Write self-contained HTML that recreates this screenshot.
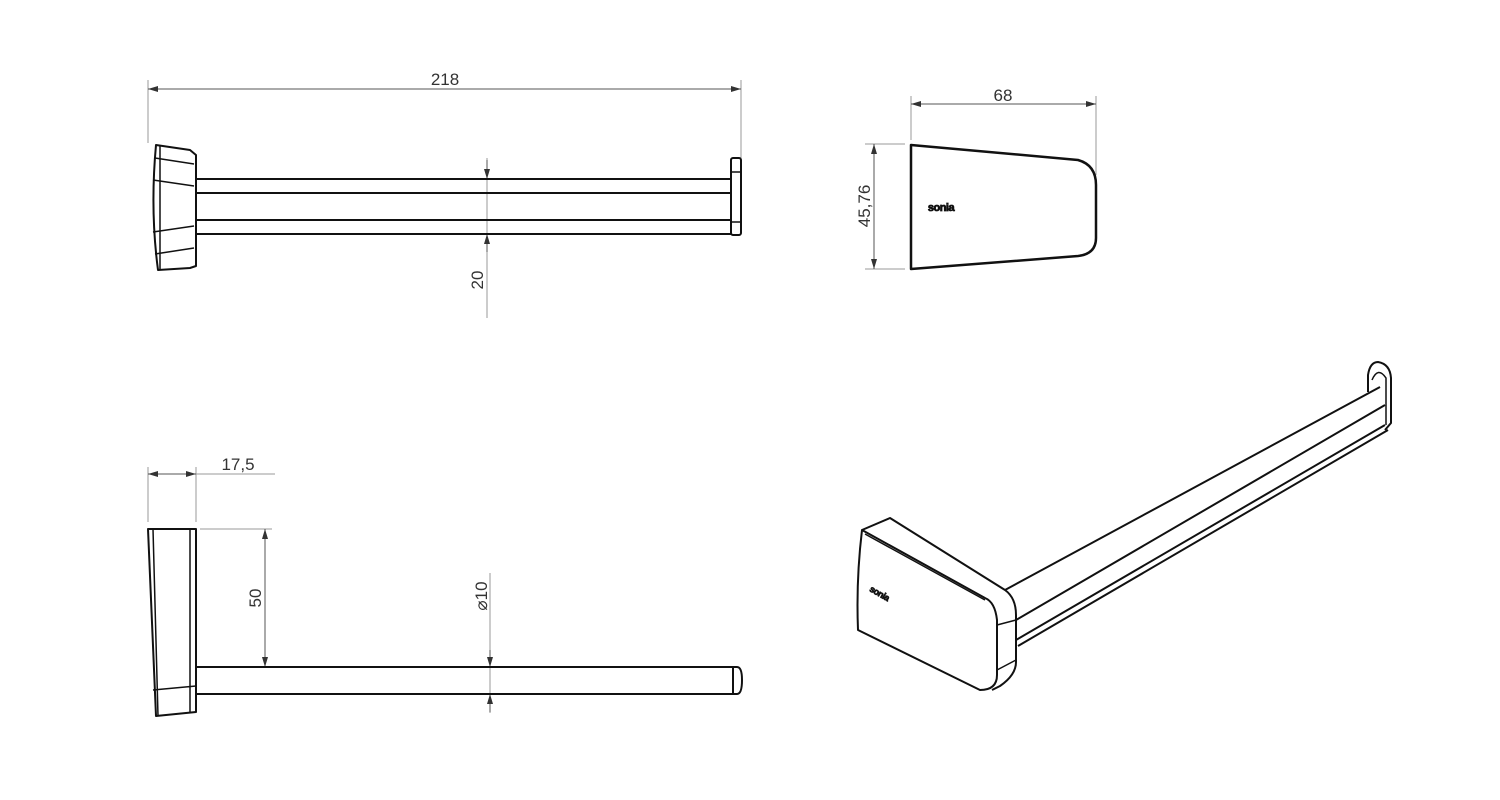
<!DOCTYPE html>
<html><head><meta charset="utf-8"><style>
html,body{margin:0;padding:0;background:#fff;}
svg{display:block;}
text{font-family:"Liberation Sans",sans-serif;fill:#333;}
</style></head><body>
<svg width="1500" height="800" viewBox="0 0 1500 800" xmlns="http://www.w3.org/2000/svg">
<defs>
<marker id="a" viewBox="0 0 10 6" refX="10" refY="3" markerWidth="10" markerHeight="6" orient="auto-start-reverse" markerUnits="userSpaceOnUse"><path d="M0,0L10,3L0,6z" fill="#333"/></marker>
</defs>
<g stroke="#999" stroke-width="1" fill="none">
<line x1="148" y1="80" x2="148" y2="143"/>
<line x1="741" y1="80" x2="741" y2="158"/>
<line x1="148" y1="89" x2="741" y2="89" stroke="#555" marker-start="url(#a)" marker-end="url(#a)"/>
<line x1="487" y1="158" x2="487" y2="318"/>
<line x1="487" y1="160" x2="487" y2="179" stroke="#555" marker-end="url(#a)"/>
<line x1="487" y1="252" x2="487" y2="234" stroke="#555" marker-end="url(#a)"/>
<line x1="911" y1="96" x2="911" y2="140"/>
<line x1="1096" y1="96" x2="1096" y2="175"/>
<line x1="911" y1="104" x2="1096" y2="104" stroke="#555" marker-start="url(#a)" marker-end="url(#a)"/>
<line x1="865" y1="144" x2="905" y2="144"/>
<line x1="865" y1="269" x2="905" y2="269"/>
<line x1="874" y1="144" x2="874" y2="269" stroke="#555" marker-start="url(#a)" marker-end="url(#a)"/>
<line x1="148" y1="467" x2="148" y2="522"/>
<line x1="196" y1="467" x2="196" y2="522"/>
<line x1="196" y1="474" x2="275" y2="474"/>
<line x1="148" y1="474" x2="196" y2="474" stroke="#555" marker-start="url(#a)" marker-end="url(#a)"/>
<line x1="200" y1="529" x2="272" y2="529"/>
<line x1="265" y1="529" x2="265" y2="667" stroke="#555" marker-start="url(#a)" marker-end="url(#a)"/>
<line x1="490" y1="573" x2="490" y2="713"/>
<line x1="490" y1="650" x2="490" y2="667" stroke="#555" marker-end="url(#a)"/>
<line x1="490" y1="712" x2="490" y2="694" stroke="#555" marker-end="url(#a)"/>
</g>
<g font-size="17">
<text x="445" y="85" text-anchor="middle">218</text>
<text x="1003" y="101" text-anchor="middle">68</text>
<text x="238" y="470" text-anchor="middle">17,5</text>
<text transform="translate(483,280) rotate(-90)" text-anchor="middle">20</text>
<text transform="translate(870,206) rotate(-90)" text-anchor="middle">45,76</text>
<text transform="translate(261,598) rotate(-90)" text-anchor="middle">50</text>
<text transform="translate(487,596) rotate(-90)" text-anchor="middle" fill="#888">⌀10</text>
</g>
<g stroke="#111" stroke-width="2" fill="none" stroke-linejoin="round">
<path d="M156,145 L190,150 L196,155 L196,266 L190,268 L158,270 Q150,210 156,145Z"/>
<path d="M160,145 L160,270" stroke-width="1.5"/>
<path d="M155,158 L194,164 M153,180 L194,186 M153,232 L194,226 M155,254 L194,248" stroke-width="1.5"/>
<path d="M196,179 L731,179 M196,193 L731,193 M196,220 L731,220 M196,234 L731,234"/>
<rect x="731" y="158" width="10" height="77" rx="2"/>
<path d="M731,172 L741,172 M731,222 L741,222" stroke-width="1.5"/>
<path d="M911,145 L1078,160 Q1096,165 1096,185 L1096,238 Q1096,254 1078,256 L911,269 Z" stroke-width="2.5"/>
<path d="M148,529 L196,529 L196,712 L156,716 Z"/>
<path d="M153,529 L158,716 M190,529 L190,712 M153,690 L196,686" stroke-width="1.5"/>
<path d="M196,667 L735,667 M196,694 L735,694"/>
<path d="M733,667 L737,667 Q742,667 742,680 Q742,694 737,694 L733,694 Z"/>
<path d="M862,530 L890,518 L1005,590 Q1016,598 1016,615 L1016,662 Q1016,675 1000,686 L992,690"/>
<path d="M862,530 Q856,580 858,630 L980,690 Q997,690 997,675 L997,620 Q995,602 985,598 Z"/>
<path d="M865,534 L985,600 M997,625 L1016,620 M997,670 L1016,660" stroke-width="1.5"/>
<path d="M1005,590 L1380,387 M1016,620 L1385,405 M1016,640 L1385,425 M1018,646 L1388,430"/>
<path d="M1368,392 L1368,375 Q1370,362 1378,362 Q1390,364 1391,378 L1391,423 L1385,430"/>
<path d="M1372,380 Q1378,366 1386,378 L1386,425" stroke-width="1.5"/>
</g>
<text x="941" y="211" text-anchor="middle" font-size="11" font-weight="bold" stroke="#111" stroke-width="0.8" style="fill:#111" letter-spacing="-0.5">sonia</text>
<text transform="translate(878,596) rotate(30)" text-anchor="middle" font-size="9" font-weight="bold" stroke="#111" stroke-width="0.7" style="fill:#111" letter-spacing="-0.5">sonia</text>
</svg>
</body></html>
